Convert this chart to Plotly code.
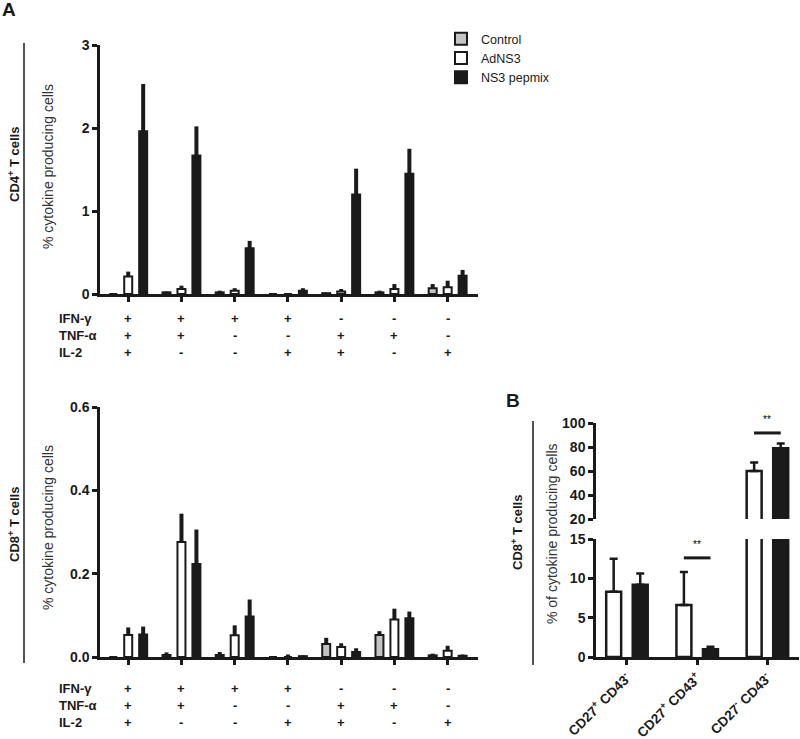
import plotly.graph_objects as go

W, H = 800, 739
def px(x): return x / W
def py(y): return 1 - y / H

FONT = "Liberation Sans, Arial, Helvetica, sans-serif"

# ---------------- data ----------------
series = ["Control", "AdNS3", "NS3 pepmix"]
groups = [0, 1, 2, 3, 4, 5, 6]
ifn_row = ["+", "+", "+", "+", "-", "-", "-"]
tnf_row = ["+", "+", "-", "-", "+", "+", "-"]
il2_row = ["+", "-", "-", "+", "+", "-", "+"]

cd4_control = [0.0, 0.02, 0.02, 0.0, 0.01, 0.02, 0.07]
cd4_control_err = [0.0, 0.01, 0.02, 0.0, 0.005, 0.02, 0.05]
cd4_adns3 = [0.21, 0.06, 0.04, 0.0, 0.03, 0.06, 0.08]
cd4_adns3_err = [0.06, 0.04, 0.03, 0.01, 0.03, 0.06, 0.08]
cd4_ns3 = [1.96, 1.67, 0.55, 0.04, 1.20, 1.45, 0.22]
cd4_ns3_err = [0.57, 0.35, 0.09, 0.03, 0.31, 0.30, 0.07]

cd8_control = [0.0, 0.005, 0.005, 0.0, 0.031, 0.053, 0.004]
cd8_control_err = [0.0, 0.006, 0.007, 0.0, 0.015, 0.009, 0.004]
cd8_adns3 = [0.053, 0.276, 0.052, 0.0, 0.024, 0.09, 0.015]
cd8_adns3_err = [0.018, 0.068, 0.024, 0.006, 0.009, 0.026, 0.012]
cd8_ns3 = [0.054, 0.223, 0.097, 0.002, 0.012, 0.093, 0.003]
cd8_ns3_err = [0.019, 0.083, 0.041, 0.002, 0.009, 0.016, 0.003]

b_cats = [0, 1, 2]
b_labels = ["CD27<sup>+</sup> CD43<sup>-</sup>", "CD27<sup>+</sup> CD43<sup>+</sup>",
            "CD27<sup>-</sup> CD43<sup>-</sup>"]
b_adns3 = [8.3, 6.6, 60.0]
b_adns3_err = [4.2, 4.2, 7.0]
b_ns3 = [9.2, 1.0, 79.0]
b_ns3_err = [1.4, 0.3, 4.0]
sig_cats = [1, 2]
sig_y = [12.6, 91.7]
sig_text = ["**", "**"]

fills = {"Control": "#c4c4c4", "AdNS3": "#ffffff", "NS3 pepmix": "#1a1a1a"}
INK = "#1a1a1a"

fig = go.Figure()

# Panel A bars
a_width = 0.15
a_offsets = {"Control": -0.356, "AdNS3": -0.075, "NS3 pepmix": 0.206}
panelA = [
    ("x", "y", [cd4_control, cd4_adns3, cd4_ns3], [cd4_control_err, cd4_adns3_err, cd4_ns3_err], True),
    ("x2", "y2", [cd8_control, cd8_adns3, cd8_ns3], [cd8_control_err, cd8_adns3_err, cd8_ns3_err], False),
]
for xa, ya, vals, errs, show in panelA:
    for name, v, e in zip(series, vals, errs):
        fig.add_trace(go.Bar(
            x=groups, y=v, name=name, xaxis=xa, yaxis=ya,
            width=a_width, offset=a_offsets[name],
            marker=dict(color=fills[name], line=dict(color=INK, width=2)),
            error_y=dict(type="data", array=e, arrayminus=[0] * len(e), symmetric=False,
                         color=INK, thickness=4, width=0),
            showlegend=show, legendgroup=name,
        ))

# Panel B bars (drawn on both segments of the broken axis)
b_width = 0.213
b_offsets = {"AdNS3": -0.295, "NS3 pepmix": 0.083}
for xa, ya in [("x3", "y3"), ("x4", "y4")]:
    for name, v, e in [("AdNS3", b_adns3, b_adns3_err), ("NS3 pepmix", b_ns3, b_ns3_err)]:
        fig.add_trace(go.Bar(
            x=b_cats, y=v, name=name, xaxis=xa, yaxis=ya,
            width=b_width, offset=b_offsets[name],
            marker=dict(color=fills[name], line=dict(color=INK, width=2.5)),
            error_y=dict(type="data", array=e, arrayminus=[0] * len(e), symmetric=False,
                         color=INK, thickness=2.5, width=4),
            showlegend=False, legendgroup=name,
        ))

# significance lines
for c, yv, t in zip(sig_cats, sig_y, sig_text):
    ya = "y3" if yv <= 15 else "y4"
    xa = "x3" if ya == "y3" else "x4"
    fig.add_trace(go.Scatter(x=[c - 0.19, c + 0.19], y=[yv, yv], mode="lines",
                             line=dict(color=INK, width=3), xaxis=xa, yaxis=ya,
                             showlegend=False, hoverinfo="skip"))
    fig.add_annotation(x=c, y=yv, xref=xa, yref=ya, text=t, showarrow=False,
                       xanchor="center", yanchor="middle",
                       yshift=13, font=dict(family=FONT, size=10, color="#000000"))

tickfont = dict(family=FONT, size=14, color=INK, weight="bold")
axcommon = dict(showgrid=False, zeroline=False, showline=True, linecolor=INK, linewidth=2.5,
                ticks="outside", tickcolor=INK, tickwidth=2.5, ticklen=5, tickfont=tickfont,
                automargin=False)

xA_range = [-0.53, 6.57]
fig.update_layout(
    template="none",
    width=W, height=H, autosize=False,
    margin=dict(l=0, r=0, t=0, b=0, pad=0, autoexpand=False),
    paper_bgcolor="white", plot_bgcolor="white",
    barmode="overlay",
    font=dict(family=FONT, color=INK),
    xaxis=dict(domain=[px(100), px(478)], range=xA_range, anchor="y",
               tickvals=groups, showticklabels=False, **axcommon),
    yaxis=dict(domain=[py(294), py(45)], range=[0, 3], anchor="x",
               tickvals=[0, 1, 2, 3], **axcommon),
    xaxis2=dict(domain=[px(100), px(478)], range=xA_range, anchor="y2",
                tickvals=groups, showticklabels=False, **axcommon),
    yaxis2=dict(domain=[py(657), py(407)], range=[0, 0.6], anchor="x2",
                tickvals=[0, 0.2, 0.4, 0.6], tickformat=".1f", **axcommon),
    xaxis3=dict(domain=[px(596), px(799)], range=[-0.44, 2.45], anchor="y3",
                tickvals=b_cats, ticktext=b_labels, tickangle=-45,
                **{**axcommon, "tickfont": dict(family=FONT, size=13.5, color=INK, weight="bold")}),
    yaxis3=dict(domain=[py(657), py(539)], range=[0, 15], anchor="x3",
                tickvals=[0, 5, 10, 15], **axcommon),
    xaxis4=dict(domain=[px(596), px(799)], range=[-0.44, 2.45], anchor="y4", matches="x3",
                visible=False),
    yaxis4=dict(domain=[py(519), py(423)], range=[20, 100], anchor="x4",
                tickvals=[20, 40, 60, 80, 100], **axcommon),
    legend=dict(x=px(441), y=py(24), xanchor="left", yanchor="top",
                font=dict(family=FONT, size=12.5, color=INK), bgcolor="rgba(0,0,0,0)",
                tracegroupgap=0, itemwidth=30),
)

# cytokine tables
row_names = ["IFN-γ", "TNF-α", "IL-2"]
rows = [ifn_row, tnf_row, il2_row]
for xa, ys in [("x", [318, 335, 352]), ("x2", [688, 705, 722])]:
    for rn, row, yy in zip(row_names, rows, ys):
        fig.add_annotation(x=px(57), y=py(yy), xref="paper", yref="paper", text=rn,
                           showarrow=False, xanchor="left", yanchor="middle",
                           font=dict(family=FONT, size=13, color=INK, weight="bold"))
        for g, s in zip(groups, row):
            fig.add_annotation(x=g, y=py(yy), xref=xa, yref="paper", text=s,
                               showarrow=False, xanchor="center", yanchor="middle",
                               font=dict(family=FONT, size=13, color=INK, weight="bold"))

# y-axis titles
for xx, yy, t in [(48, 167, "% cytokine producing cells"),
                  (48, 528, "% cytokine producing cells"),
                  (552, 534, "% of cytokine producing cells")]:
    fig.add_annotation(x=px(xx), y=py(yy), xref="paper", yref="paper", text=t,
                       textangle=-90, showarrow=False, xanchor="center", yanchor="middle",
                       font=dict(family=FONT, size=14, color="#333333"))

# side labels
for xx, yy, t in [(14, 165, "CD4<sup>+</sup> T cells"),
                  (14, 525, "CD8<sup>+</sup> T cells"),
                  (517, 533, "CD8<sup>+</sup> T cells")]:
    fig.add_annotation(x=px(xx), y=py(yy), xref="paper", yref="paper", text=t,
                       textangle=-90, showarrow=False, xanchor="center", yanchor="middle",
                       font=dict(family=FONT, size=13, color=INK, weight="bold"))

# panel letters
fig.add_annotation(x=px(9), y=py(9), xref="paper", yref="paper", text="A", showarrow=False,
                   xanchor="center", yanchor="middle",
                   font=dict(family=FONT, size=19, color=INK, weight="bold"))
fig.add_annotation(x=px(513), y=py(400), xref="paper", yref="paper", text="B", showarrow=False,
                   xanchor="center", yanchor="middle",
                   font=dict(family=FONT, size=19, color=INK, weight="bold"))

# bracket lines
fig.add_shape(type="line", xref="paper", yref="paper", x0=px(24), x1=px(24), y0=py(43), y1=py(663),
              line=dict(color=INK, width=1.5))
fig.add_shape(type="line", xref="paper", yref="paper", x0=px(533), x1=px(533), y0=py(421), y1=py(665),
              line=dict(color=INK, width=1.5))

fig.write_html("out.html", config={"displayModeBar": False},
               post_script="document.body.style.margin='0px';")
